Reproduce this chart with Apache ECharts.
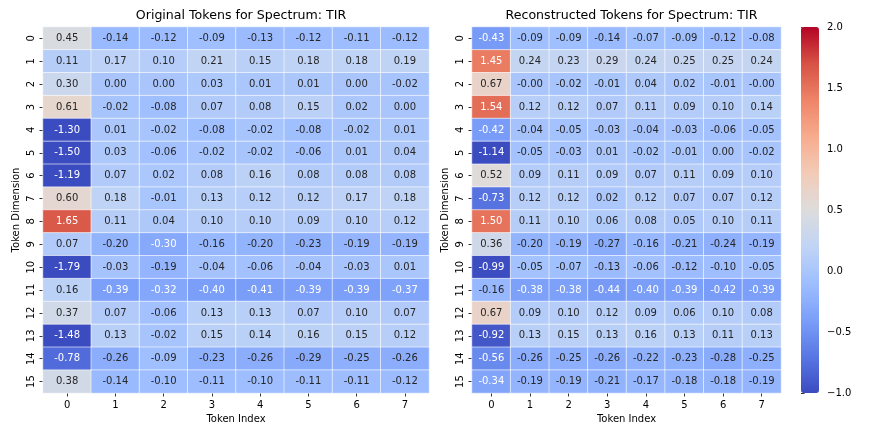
<!DOCTYPE html>
<html>
<head>
<meta charset="utf-8">
<script src="https://cdn.jsdelivr.net/npm/echarts@6/dist/echarts.min.js"></script>
<style>html,body{margin:0;padding:0;background:#fff}#c{width:872px;height:436px}</style>
</head>
<body>
<div id="c"></div>
<script>
const xCats = ['0','1','2','3','4','5','6','7'];
const yCats = ['0','1','2','3','4','5','6','7','8','9','10','11','12','13','14','15'];
const cbTicks = [-1.0,-0.5,0.0,0.5,1.0,1.5,2.0];
const titleLeft = 'Original Tokens for Spectrum: TIR';
const titleRight = 'Reconstructed Tokens for Spectrum: TIR';
const original = [
 [0.45,-0.14,-0.12,-0.09,-0.13,-0.12,-0.11,-0.12],
 [0.11,0.17,0.10,0.21,0.15,0.18,0.18,0.19],
 [0.30,0.00,0.00,0.03,0.01,0.01,0.00,-0.02],
 [0.61,-0.02,-0.08,0.07,0.08,0.15,0.02,0.00],
 [-1.30,0.01,-0.02,-0.08,-0.02,-0.08,-0.02,0.01],
 [-1.50,0.03,-0.06,-0.02,-0.02,-0.06,0.01,0.04],
 [-1.19,0.07,0.02,0.08,0.16,0.08,0.08,0.08],
 [0.60,0.18,-0.01,0.13,0.12,0.12,0.17,0.18],
 [1.65,0.11,0.04,0.10,0.10,0.09,0.10,0.12],
 [0.07,-0.20,-0.30,-0.16,-0.20,-0.23,-0.19,-0.19],
 [-1.79,-0.03,-0.19,-0.04,-0.06,-0.04,-0.03,0.01],
 [0.16,-0.39,-0.32,-0.40,-0.41,-0.39,-0.39,-0.37],
 [0.37,0.07,-0.06,0.13,0.13,0.07,0.10,0.07],
 [-1.48,0.13,-0.02,0.15,0.14,0.16,0.15,0.12],
 [-0.78,-0.26,-0.09,-0.23,-0.26,-0.29,-0.25,-0.26],
 [0.38,-0.14,-0.10,-0.11,-0.10,-0.11,-0.11,-0.12]
];
const reconstructed = [
 [-0.43,-0.09,-0.09,-0.14,-0.07,-0.09,-0.12,-0.08],
 [1.45,0.24,0.23,0.29,0.24,0.25,0.25,0.24],
 [0.67,-0.00,-0.02,-0.01,0.04,0.02,-0.01,-0.00],
 [1.54,0.12,0.12,0.07,0.11,0.09,0.10,0.14],
 [-0.42,-0.04,-0.05,-0.03,-0.04,-0.03,-0.06,-0.05],
 [-1.14,-0.05,-0.03,0.01,-0.02,-0.01,0.00,-0.02],
 [0.52,0.09,0.11,0.09,0.07,0.11,0.09,0.10],
 [-0.73,0.12,0.12,0.02,0.12,0.07,0.07,0.12],
 [1.50,0.11,0.10,0.06,0.08,0.05,0.10,0.11],
 [0.36,-0.20,-0.19,-0.27,-0.16,-0.21,-0.24,-0.19],
 [-0.99,-0.05,-0.07,-0.13,-0.06,-0.12,-0.10,-0.05],
 [-0.16,-0.38,-0.38,-0.44,-0.40,-0.39,-0.42,-0.39],
 [0.67,0.09,0.10,0.12,0.09,0.06,0.10,0.08],
 [-0.92,0.13,0.15,0.13,0.16,0.13,0.11,0.13],
 [-0.56,-0.26,-0.25,-0.26,-0.22,-0.23,-0.28,-0.25],
 [-0.34,-0.19,-0.19,-0.21,-0.17,-0.18,-0.18,-0.19]
];
const vmin = -1, vmax = 2;
const coolwarm = ['#3b4cc0','#5977e3','#7b9ff9','#9ebeff','#c0d4f5','#dddcdc','#f2cbb7','#f7ac8e','#ee8468','#d65244','#b40426'];

function hexToRgb(h){return [parseInt(h.substr(1,2),16),parseInt(h.substr(3,2),16),parseInt(h.substr(5,2),16)];}
function cmap(v){
  let t=(v-vmin)/(vmax-vmin); t=Math.max(0,Math.min(1,t));
  const n=coolwarm.length-1, p=t*n, i=Math.min(Math.floor(p),n-1), f=p-i;
  const a=hexToRgb(coolwarm[i]), b=hexToRgb(coolwarm[i+1]);
  return a.map((c,k)=>c+(b[k]-c)*f);
}
function lum(rgb){
  const l=rgb.map(c=>{c/=255;return c<=0.03928?c/12.92:Math.pow((c+0.055)/1.055,2.4);});
  return 0.2126*l[0]+0.7152*l[1]+0.0722*l[2];
}
function fmt(v){
  const s=Math.abs(v).toFixed(2);
  return (v<0||Object.is(v,-0))?'-'+s:s;
}
function build(mat){
  const out=[];
  mat.forEach((row,y)=>row.forEach((v,x)=>{
    out.push({value:[x,y,v],label:{color: lum(cmap(v))>0.408?'#262626':'#ffffff'}});
  }));
  return out;
}
const FONT='DejaVu Sans';
const G=[{left:43,top:27,width:386,height:366},{left:472,top:27,width:309,height:366},{left:801,top:27,width:18,height:366}];
function xAx(gi){return {type:'category',gridIndex:gi,data:xCats,name:'Token Index',nameLocation:'middle',nameGap:20,
  nameTextStyle:{fontFamily:FONT,fontSize:10,color:'#000'},
  axisLine:{show:false},axisTick:{show:true,alignWithLabel:true,length:3.5,lineStyle:{color:'#000',width:0.8}},
  axisLabel:{fontFamily:FONT,fontSize:10,color:'#000',margin:7},splitLine:{show:false}};}
function yAx(gi){return {type:'category',gridIndex:gi,data:yCats,inverse:true,name:'Token Dimension',nameLocation:'middle',nameGap:22,nameRotate:90,
  nameTextStyle:{fontFamily:FONT,fontSize:10,color:'#000'},
  axisLine:{show:false},axisTick:{show:true,alignWithLabel:true,length:3.5,lineStyle:{color:'#000',width:0.8}},
  axisLabel:{fontFamily:FONT,fontSize:10,color:'#000',rotate:90,margin:7},splitLine:{show:false}};}
function series(gi,mat){return {type:'heatmap',xAxisIndex:gi,yAxisIndex:gi,data:build(mat),
  itemStyle:{borderColor:'#ffffff',borderWidth:0.6},
  label:{show:true,fontFamily:FONT,fontSize:10,formatter:p=>fmt(p.value[2])},
  emphasis:{disabled:true}};}
const chart=echarts.init(document.getElementById('c'),null,{renderer:'canvas'});
chart.setOption({
  animation:false,
  backgroundColor:'#fff',
  title:[
    {text:titleLeft,left:43+386/2,top:4,textAlign:'center',textStyle:{fontFamily:FONT,fontSize:12.6,fontWeight:'normal',color:'#000'}},
    {text:titleRight,left:472+309/2,top:4,textAlign:'center',textStyle:{fontFamily:FONT,fontSize:12.6,fontWeight:'normal',color:'#000'}}
  ],
  grid:G,
  xAxis:[xAx(0),xAx(1),{type:'value',gridIndex:2,show:false}],
  yAxis:[yAx(0),yAx(1),{type:'value',gridIndex:2,min:vmin,max:vmax,interval:0.5,position:'right',
    axisLine:{show:false},axisTick:{show:true,length:3.5,lineStyle:{color:'#000',width:0.8}},
    axisLabel:{fontFamily:FONT,fontSize:10,color:'#000',margin:8,formatter:v=>(v<0?'\u2212':'')+Math.abs(v).toFixed(1)},
    splitLine:{show:false}}],
  visualMap:{type:'continuous',min:vmin,max:vmax,seriesIndex:[0,1],calculable:false,hoverLink:false,
    orient:'vertical',left:801,top:27,itemWidth:18,itemHeight:366,padding:0,text:null,showLabel:false,
    inRange:{color:coolwarm}},
  series:[series(0,original),series(1,reconstructed)]
});
</script>
</body>
</html>
